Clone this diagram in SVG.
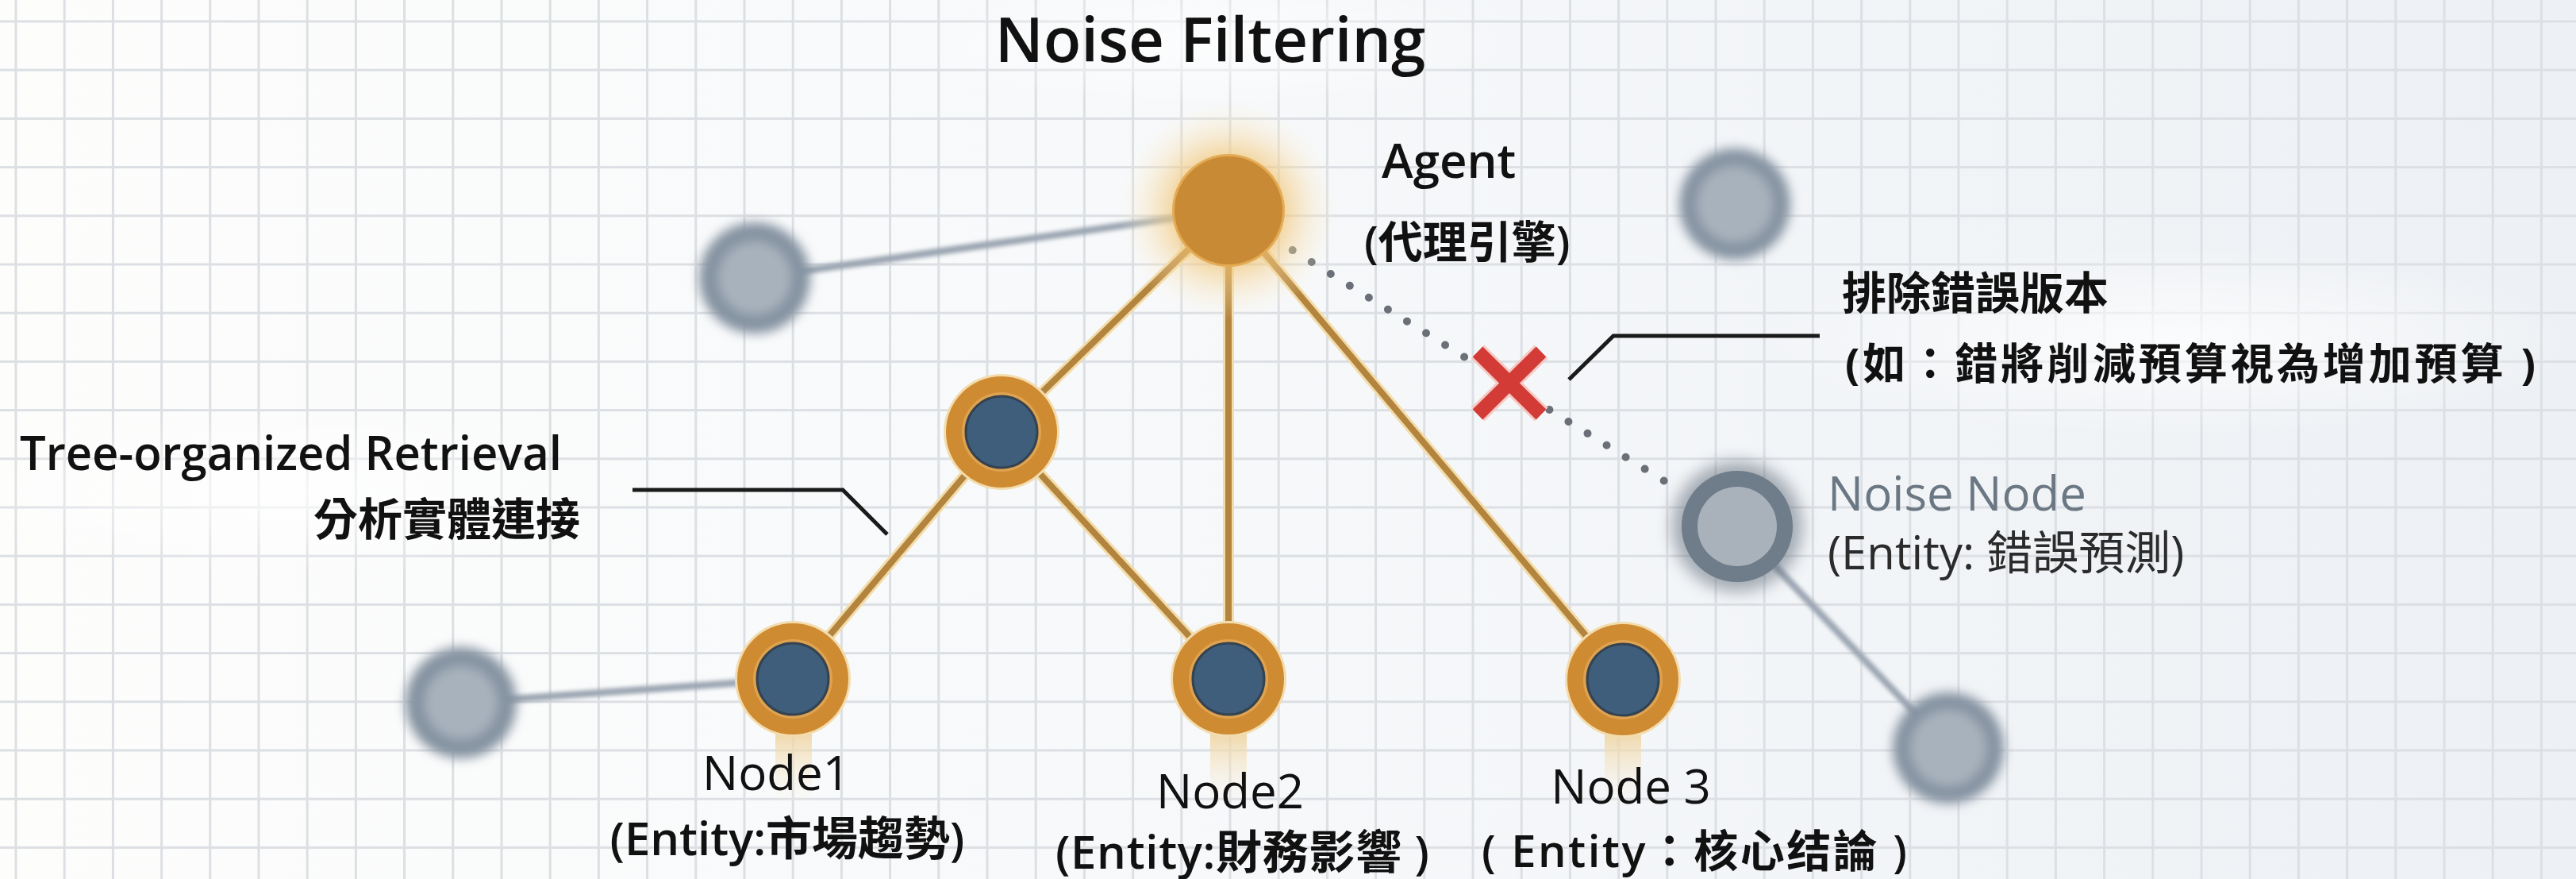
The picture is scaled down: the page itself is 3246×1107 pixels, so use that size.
<svg xmlns="http://www.w3.org/2000/svg" width="3246" height="1107" viewBox="0 0 3246 1107">
<defs>
  <style>
    .t { font-family: "Open Sans", "Noto Sans CJK TC", sans-serif; fill: #111; }
    .sb { font-weight: 600; }
    .bd { font-weight: 700; }
    .rg { font-weight: 400; }
    .edge { stroke: #b3843e; stroke-width: 8; fill: none; }
    .edgeHalo { stroke: #f2dcaa; stroke-width: 14; fill: none; }
    .grayEdge { stroke: #9ba6b2; stroke-width: 9; fill: none; }
    .leader { stroke: #1a1a1a; stroke-width: 5; fill: none; stroke-linejoin: miter; }
    .dots { stroke: #6b7078; stroke-width: 10; stroke-linecap: round; stroke-dasharray: 0 28.3; fill: none; }
    .ringO { fill: #cf8b32; }
    .ringHalo { fill: #f3dcae; }
    .ringBand { fill: #dea251; }
    .core { fill: #3f5e7c; stroke: #34434f; stroke-width: 3; }
    .gOuter { fill: #8492a0; }
    .gInner { fill: #a8b2bd; }
  </style>
  <linearGradient id="bg" x1="0" y1="0" x2="1" y2="0">
    <stop offset="0" stop-color="#fdfdfc"/>
    <stop offset="0.5" stop-color="#f6f8fa"/>
    <stop offset="1" stop-color="#edf0f4"/>
  </linearGradient>
  <pattern id="grid" patternUnits="userSpaceOnUse" x="18.5" y="25.5" width="61.2" height="61.2">
    <rect x="0" y="0" width="3" height="61.2" fill="#dcdfe3"/>
    <rect x="0" y="0" width="61.2" height="3" fill="#dcdfe3"/>
  </pattern>
  <radialGradient id="agentGlow" cx="0.5" cy="0.5" r="0.5">
    <stop offset="0" stop-color="#e9a73c" stop-opacity="0.95"/>
    <stop offset="0.45" stop-color="#f0c06a" stop-opacity="0.7"/>
    <stop offset="1" stop-color="#fff6e0" stop-opacity="0"/>
  </radialGradient>
  <radialGradient id="whiteHaze" cx="0.5" cy="0.5" r="0.5">
    <stop offset="0" stop-color="#ffffff" stop-opacity="0.75"/>
    <stop offset="1" stop-color="#ffffff" stop-opacity="0"/>
  </radialGradient>
  <linearGradient id="stem" x1="0" y1="0" x2="0" y2="1">
    <stop offset="0" stop-color="#eed39e" stop-opacity="0.9"/>
    <stop offset="1" stop-color="#fbf3e2" stop-opacity="0"/>
  </linearGradient>
  <filter id="blur6" x="-50%" y="-50%" width="200%" height="200%"><feGaussianBlur stdDeviation="7"/></filter>
  <filter id="blur2" x="-50%" y="-50%" width="200%" height="200%"><feGaussianBlur stdDeviation="2.5"/></filter>
  <filter id="shadow" x="-50%" y="-50%" width="200%" height="200%"><feGaussianBlur stdDeviation="10"/></filter>
</defs>

<!-- background -->
<rect x="0" y="0" width="3246" height="1107" fill="url(#bg)"/>
<rect x="0" y="0" width="3246" height="1107" fill="url(#grid)"/>
<ellipse cx="1525" cy="55" rx="380" ry="80" fill="url(#whiteHaze)"/>
<ellipse cx="360" cy="620" rx="420" ry="110" fill="url(#whiteHaze)"/>
<ellipse cx="2740" cy="430" rx="520" ry="120" fill="url(#whiteHaze)"/>

<!-- connectors -->
<g id="connectors">
  <line class="grayEdge" x1="951" y1="350" x2="1548" y2="265" filter="url(#blur2)"/>
  <line class="grayEdge" x1="581" y1="885" x2="999" y2="855" filter="url(#blur2)"/>
  <line class="grayEdge" x1="2189" y1="663" x2="2455" y2="942" filter="url(#blur2)"/>
  <g id="tree-edges">
    <line class="edgeHalo" x1="1548" y1="265" x2="1262" y2="544"/>
    <line class="edgeHalo" x1="1548" y1="265" x2="1548" y2="855"/>
    <line class="edgeHalo" x1="1548" y1="265" x2="2045" y2="856"/>
    <line class="edgeHalo" x1="1262" y1="544" x2="999" y2="855"/>
    <line class="edgeHalo" x1="1262" y1="544" x2="1548" y2="855"/>
    <line class="edge" x1="1548" y1="265" x2="1262" y2="544"/>
    <line class="edge" x1="1548" y1="265" x2="1548" y2="855"/>
    <line class="edge" x1="1548" y1="265" x2="2045" y2="856"/>
    <line class="edge" x1="1262" y1="544" x2="999" y2="855"/>
    <line class="edge" x1="1262" y1="544" x2="1548" y2="855"/>
  </g>
  <g id="filtered-edge">
    <line class="dots" x1="1628.7" y1="315.1" x2="1847" y2="450.6"/>
    <line class="dots" x1="1952.4" y1="516" x2="2119" y2="619.4"/>
  </g>
  <polyline class="leader" points="797,617 1062,617 1118,673"/>
  <polyline class="leader" points="1977,478 2033,423 2293,423"/>
</g>

<!-- stems under bottom nodes -->
<rect x="977" y="922" width="46" height="92" fill="url(#stem)"/>
<rect x="1525" y="922" width="46" height="92" fill="url(#stem)"/>
<rect x="2022" y="922" width="46" height="92" fill="url(#stem)"/>

<!-- gray background nodes -->
<g id="gray-node-left-upper" filter="url(#blur6)">
  <circle class="gOuter" cx="951" cy="350" r="70"/>
  <circle class="gInner" cx="951" cy="350" r="46"/>
</g>
<g id="gray-node-left-lower" filter="url(#blur6)">
  <circle class="gOuter" cx="581" cy="885" r="70"/>
  <circle class="gInner" cx="581" cy="885" r="46"/>
</g>
<g id="gray-node-right-upper" filter="url(#blur6)">
  <circle class="gOuter" cx="2186" cy="257" r="70"/>
  <circle class="gInner" cx="2186" cy="257" r="48"/>
</g>
<g id="gray-node-right-lower" filter="url(#blur6)">
  <circle class="gOuter" cx="2455" cy="942" r="70"/>
  <circle class="gInner" cx="2455" cy="942" r="48"/>
</g>

<!-- noise node -->
<g id="noise-node">
  <circle cx="2189" cy="663" r="82" fill="#5f6b78" opacity="0.55" filter="url(#shadow)"/>
  <circle cx="2189" cy="663" r="70" fill="#6f7c89"/>
  <circle cx="2189" cy="663" r="50" fill="#a9b1bb"/>
  <text class="t rg" x="2303" y="643" font-size="60" style="fill:#6b7783">Noise Node</text>
  <text class="t rg" x="2303" y="717" font-size="58" style="fill:#2b2b2b">(Entity: 錯誤預測)</text>
</g>

<!-- X mark -->
<g id="reject-mark">
  <g stroke="#f6c9c4" stroke-width="24">
    <line x1="1862" y1="443" x2="1942" y2="522"/>
    <line x1="1942" y1="443" x2="1862" y2="522"/>
  </g>
  <g stroke="#d23b36" stroke-width="18">
    <line x1="1862" y1="443" x2="1942" y2="522"/>
    <line x1="1942" y1="443" x2="1862" y2="522"/>
  </g>
  <text class="t bd" x="2321" y="389" font-size="56">排除錯誤版本</text>
  <text class="t bd" x="2325" y="478" font-size="54" textLength="870" lengthAdjust="spacing">(如：錯將削減預算視為增加預算 )</text>
</g>

<!-- agent -->
<g id="agent">
  <circle cx="1548" cy="265" r="140" fill="url(#agentGlow)"/>
  <circle cx="1548" cy="265" r="71" fill="#e4ab55"/>
  <circle cx="1548" cy="265" r="68" fill="#c98a36"/>
  <text class="t sb" x="1741" y="224" font-size="60">Agent</text>
  <text class="t sb" x="1719" y="325" font-size="56">(代理引擎)</text>
</g>

<!-- middle node -->
<g id="retrieval-node">
  <circle class="ringHalo" cx="1262" cy="544" r="73"/>
  <circle class="ringO" cx="1262" cy="544" r="70"/>
  <circle class="ringBand" cx="1262" cy="544" r="50"/>
  <circle class="core" cx="1262" cy="544" r="45"/>
  <text class="t sb" x="25" y="592" font-size="59" textLength="683" lengthAdjust="spacingAndGlyphs">Tree-organized Retrieval</text>
  <text class="t sb" x="731" y="674" font-size="56" text-anchor="end">分析實體連接</text>
</g>

<!-- Node1 -->
<g id="node1">
  <circle class="ringHalo" cx="999" cy="855" r="73"/>
  <circle class="ringO" cx="999" cy="855" r="70"/>
  <circle class="ringBand" cx="999" cy="855" r="50"/>
  <circle class="core" cx="999" cy="855" r="45"/>
  <text class="t rg" x="978" y="995" font-size="60" text-anchor="middle">Node1</text>
  <text class="t sb" x="992" y="1077" font-size="58" text-anchor="middle">(Entity:市場趨勢)</text>
</g>

<!-- Node2 -->
<g id="node2">
  <circle class="ringHalo" cx="1548" cy="855" r="73"/>
  <circle class="ringO" cx="1548" cy="855" r="70"/>
  <circle class="ringBand" cx="1548" cy="855" r="50"/>
  <circle class="core" cx="1548" cy="855" r="45"/>
  <text class="t rg" x="1550" y="1018" font-size="60" text-anchor="middle">Node2</text>
  <text class="t sb" x="1330" y="1094" font-size="58" textLength="471" lengthAdjust="spacing">(Entity:財務影響 )</text>
</g>

<!-- Node3 -->
<g id="node3">
  <circle class="ringHalo" cx="2045" cy="856" r="73"/>
  <circle class="ringO" cx="2045" cy="856" r="70"/>
  <circle class="ringBand" cx="2045" cy="856" r="50"/>
  <circle class="core" cx="2045" cy="856" r="45"/>
  <text class="t rg" x="2055" y="1012" font-size="60" text-anchor="middle">Node 3</text>
  <text class="t sb" x="1867" y="1092" font-size="56" textLength="536" lengthAdjust="spacing">( Entity：核心结論 )</text>
</g>

<!-- title -->
<text id="title" class="t sb" x="1525" y="78" font-size="78" text-anchor="middle">Noise Filtering</text>
</svg>
